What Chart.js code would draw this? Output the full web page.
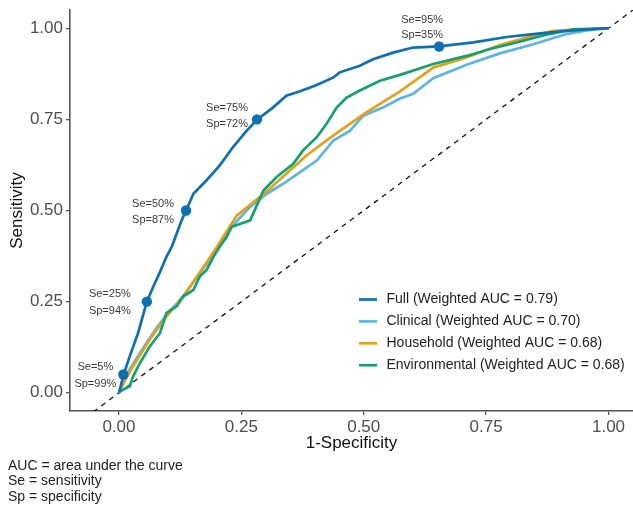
<!DOCTYPE html>
<html>
<head>
<meta charset="utf-8">
<script src="https://cdn.jsdelivr.net/npm/chart.js@4/dist/chart.umd.min.js"></script>
<style>
  html, body { margin: 0; padding: 0; background: #ffffff; }
  #wrap { width: 633px; height: 506px; position: relative; }
</style>
</head>
<body>
<div id="wrap"><canvas id="c" width="633" height="506"></canvas></div>
<script>
// ---- data ----
const xTicks = [0, 0.25, 0.5, 0.75, 1];
const xTickLabels = ["0.00", "0.25", "0.50", "0.75", "1.00"];
const yTicks = [0, 0.25, 0.5, 0.75, 1];
const yTickLabels = ["0.00", "0.25", "0.50", "0.75", "1.00"];

const seriesNames = [
  "Full (Weighted AUC = 0.79)",
  "Clinical (Weighted AUC = 0.70)",
  "Household (Weighted AUC = 0.68)",
  "Environmental (Weighted AUC = 0.68)"
];

const fullFPR = [0, 0.010, 0.022, 0.039, 0.057, 0.070, 0.084, 0.097, 0.108, 0.118, 0.128, 0.137, 0.152, 0.179, 0.206, 0.233, 0.261, 0.282, 0.315, 0.342, 0.370, 0.404, 0.438, 0.451, 0.492, 0.519, 0.560, 0.601, 0.654, 0.724, 0.792, 0.846, 0.914, 0.996, 1];
const fullTPR = [0, 0.052, 0.100, 0.164, 0.250, 0.291, 0.332, 0.373, 0.401, 0.437, 0.473, 0.500, 0.546, 0.583, 0.624, 0.674, 0.719, 0.749, 0.783, 0.815, 0.827, 0.844, 0.865, 0.879, 0.897, 0.915, 0.933, 0.947, 0.950, 0.961, 0.976, 0.984, 0.993, 1.000, 1];

const clinFPR = [0, 0.002, 0.022, 0.043, 0.074, 0.097, 0.131, 0.165, 0.200, 0.233, 0.268, 0.302, 0.336, 0.370, 0.404, 0.438, 0.472, 0.499, 0.540, 0.574, 0.601, 0.642, 0.710, 0.778, 0.846, 0.914, 0.955, 1];
const clinTPR = [0, 0.004, 0.064, 0.110, 0.173, 0.214, 0.264, 0.328, 0.392, 0.460, 0.510, 0.546, 0.574, 0.605, 0.637, 0.692, 0.719, 0.760, 0.783, 0.807, 0.820, 0.863, 0.900, 0.931, 0.956, 0.984, 0.994, 1];

const houseFPR = [0, 0.002, 0.029, 0.063, 0.097, 0.131, 0.165, 0.200, 0.240, 0.302, 0.349, 0.383, 0.438, 0.506, 0.574, 0.642, 0.710, 0.778, 0.846, 0.887, 0.948, 1];
const houseTPR = [0, 0.009, 0.073, 0.146, 0.209, 0.264, 0.330, 0.400, 0.485, 0.553, 0.610, 0.651, 0.706, 0.770, 0.827, 0.892, 0.920, 0.954, 0.979, 0.993, 0.997, 1];

const envFPR = [0, 0.002, 0.022, 0.029, 0.043, 0.063, 0.084, 0.097, 0.118, 0.131, 0.152, 0.165, 0.179, 0.193, 0.206, 0.220, 0.230, 0.247, 0.268, 0.295, 0.322, 0.356, 0.376, 0.404, 0.424, 0.445, 0.465, 0.492, 0.533, 0.574, 0.642, 0.710, 0.758, 0.812, 0.879, 0.928, 1];
const envTPR = [0, 0.004, 0.018, 0.045, 0.082, 0.127, 0.164, 0.219, 0.237, 0.264, 0.282, 0.319, 0.337, 0.373, 0.401, 0.428, 0.455, 0.463, 0.473, 0.555, 0.592, 0.628, 0.665, 0.701, 0.738, 0.783, 0.810, 0.829, 0.856, 0.872, 0.902, 0.924, 0.943, 0.961, 0.984, 0.997, 1];

// operating points on the Full curve
const opFPR = [0.009, 0.057, 0.137, 0.282, 0.654];
const opTPR = [0.05, 0.25, 0.50, 0.75, 0.95];
const opSe = ["Se=5%", "Se=25%", "Se=50%", "Se=75%", "Se=95%"];
const opSp = ["Sp=99%", "Sp=94%", "Sp=87%", "Sp=72%", "Sp=35%"];

// reference (chance) line endpoints
const refX = [-0.2, 1.2];
const refY = [-0.2, 1.2];

const footnotes = ["AUC = area under the curve", "Se = sensitivity", "Sp = specificity"];

// ---- helpers ----
const zip = (xs, ys) => xs.map((x, i) => ({ x: x, y: ys[i] }));
const FONT = '"Liberation Sans", Arial, Helvetica, sans-serif';
const colors = ["#0F6FB3", "#5CB4E6", "#E5A01A", "#14A06F"];

const lineDs = (label, xs, ys, color, order) => ({
  label: label, data: zip(xs, ys), showLine: true, borderColor: color,
  backgroundColor: color, borderWidth: 2.7, pointRadius: 0, tension: 0,
  order: order, clip: 0, isSeries: true
});

const noPad = s => { s.paddingTop = 0; s.paddingBottom = 0; s.paddingLeft = 0; s.paddingRight = 0; };

// ---- plugins ----
const areaPlugin = {
  id: 'fixArea',
  afterLayout(chart, args, opts) {
    const s = chart.scales.x;
    const r = chart.width - opts.right;
    chart.chartArea.right = r;
    chart.chartArea.width = r - chart.chartArea.left;
    s.right = r;
    s.width = r - s.left;
    s.configure();
  }
};

const annotPlugin = {
  id: 'annot',
  afterDatasetsDraw(chart, args, opts) {
    const ctx = chart.ctx, xs = chart.scales.x, ys = chart.scales.y;
    ctx.save();
    ctx.font = '11px ' + FONT;
    ctx.fillStyle = '#3a3a3a';
    ctx.textAlign = 'center';
    ctx.textBaseline = 'middle';
    opFPR.forEach((fx, i) => {
      const px = xs.getPixelForValue(fx), py = ys.getPixelForValue(opTPR[i]);
      const o = opts.offsets[i];
      ctx.fillText(opSe[i], px + o[0], py + o[1]);
      ctx.fillText(opSp[i], px + o[0], py + o[2]);
    });
    ctx.restore();
  }
};

const legendPlugin = {
  id: 'customLegend',
  afterDraw(chart, args, opts) {
    const ctx = chart.ctx;
    const items = chart.data.datasets.filter(d => d.isSeries);
    ctx.save();
    ctx.font = '14px ' + FONT;
    ctx.textBaseline = 'middle';
    ctx.textAlign = 'left';
    items.forEach((d, i) => {
      const y = opts.top + i * opts.spacing;
      ctx.strokeStyle = d.borderColor;
      ctx.lineWidth = 2.7;
      ctx.beginPath();
      ctx.moveTo(opts.left, y);
      ctx.lineTo(opts.left + opts.swatch, y);
      ctx.stroke();
      ctx.fillStyle = '#222222';
      ctx.fillText(d.label, opts.left + opts.swatch + opts.gap, y);
    });
    ctx.restore();
  }
};

const footPlugin = {
  id: 'foot',
  afterDraw(chart, args, opts) {
    const ctx = chart.ctx;
    ctx.save();
    ctx.font = '14px ' + FONT;
    ctx.fillStyle = '#222222';
    ctx.textAlign = 'left';
    ctx.textBaseline = 'middle';
    footnotes.forEach((t, i) => ctx.fillText(t, opts.x, opts.y + i * opts.lineH));
    ctx.restore();
  }
};

// ---- chart ----
new Chart(document.getElementById('c'), {
  type: 'scatter',
  data: {
    datasets: [
      lineDs(seriesNames[0], fullFPR, fullTPR, colors[0], 1),
      lineDs(seriesNames[1], clinFPR, clinTPR, colors[1], 4),
      lineDs(seriesNames[2], houseFPR, houseTPR, colors[2], 3),
      lineDs(seriesNames[3], envFPR, envTPR, colors[3], 2),
      {
        label: 'Operating points', data: zip(opFPR, opTPR), showLine: false,
        pointRadius: 5.2, pointBackgroundColor: colors[0], pointBorderWidth: 0,
        borderColor: colors[0], order: 0
      },
      {
        label: 'Chance', data: zip(refX, refY), showLine: true, borderColor: '#111111',
        borderWidth: 1.3, borderDash: [5, 5], pointRadius: 0, order: 5, clip: 0
      }
    ]
  },
  options: {
    responsive: false,
    animation: false,
    events: [],
    layout: { padding: { left: 0, right: 0, top: 10, bottom: 50 } },
    plugins: {
      legend: { display: false },
      tooltip: { enabled: false },
      fixArea: { right: 0 },
      annot: { offsets: [[-28, -8, 9], [-37, -8, 9], [-33, -7, 9], [-30, -11, 5], [-17, -26, -11]] },
      customLegend: { left: 359, top: 299.5, spacing: 21.9, swatch: 18, gap: 9.5 },
      foot: { x: 8, y: 466, lineH: 15.5 }
    },
    scales: {
      x: {
        type: 'linear', min: -0.1, max: 1.05,
        afterBuildTicks: s => { s.ticks = xTicks.map(v => ({ value: v })); },
        afterFit: s => { s.height = 45; noPad(s); },
        ticks: {
          autoSkip: false, maxRotation: 0, padding: 2,
          font: { family: FONT, size: 17 }, color: '#4d4d4d',
          callback: (v, i) => xTickLabels[i]
        },
        grid: { display: true, drawOnChartArea: false, drawTicks: true, tickLength: 4, color: '#555555', lineWidth: 1.3 },
        border: { display: true, color: '#555555', width: 1.6 },
        title: { display: true, text: '1-Specificity', font: { family: FONT, size: 17 }, color: '#111111', padding: { top: 0, bottom: 2 } }
      },
      y: {
        type: 'linear', min: -0.05, max: 1.05,
        afterBuildTicks: s => { s.ticks = yTicks.map(v => ({ value: v })); },
        afterFit: s => { s.width = 70; noPad(s); },
        ticks: {
          autoSkip: false, padding: 3,
          font: { family: FONT, size: 17 }, color: '#4d4d4d',
          callback: (v, i) => yTickLabels[i]
        },
        grid: { display: true, drawOnChartArea: false, drawTicks: true, tickLength: 4, color: '#555555', lineWidth: 1.3 },
        border: { display: true, color: '#555555', width: 1.6 },
        title: { display: true, text: 'Sensitivity', font: { family: FONT, size: 17 }, color: '#111111', padding: { top: 7, bottom: 0 } }
      }
    }
  },
  plugins: [areaPlugin, annotPlugin, legendPlugin, footPlugin]
});
</script>
</body>
</html>
